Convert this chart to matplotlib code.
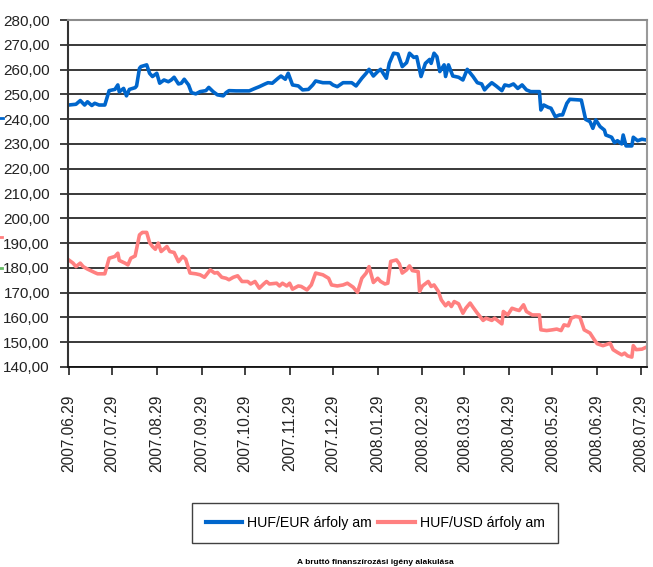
import matplotlib
matplotlib.use('Agg')
import matplotlib.pyplot as plt
from matplotlib.lines import Line2D
import pandas as pd

eur_dates = ['2007-06-29', '2007-07-04', '2007-07-07', '2007-07-10', '2007-07-12', '2007-07-15',
             '2007-07-17', '2007-07-20', '2007-07-24', '2007-07-27', '2007-07-31', '2007-08-02',
             '2007-08-03', '2007-08-06', '2007-08-08', '2007-08-10', '2007-08-14', '2007-08-15',
             '2007-08-17', '2007-08-18', '2007-08-22', '2007-08-24', '2007-08-26', '2007-08-29',
             '2007-08-31', '2007-09-03', '2007-09-06', '2007-09-08', '2007-09-10', '2007-09-13',
             '2007-09-15', '2007-09-17', '2007-09-20', '2007-09-22', '2007-09-25', '2007-09-28',
             '2007-10-02', '2007-10-04', '2007-10-07', '2007-10-10', '2007-10-14', '2007-10-16',
             '2007-10-18', '2007-10-23', '2007-11-01', '2007-11-05', '2007-11-08', '2007-11-12',
             '2007-11-14', '2007-11-17', '2007-11-21', '2007-11-23', '2007-11-26', '2007-11-28',
             '2007-12-01', '2007-12-05', '2007-12-08', '2007-12-12', '2007-12-15', '2007-12-17',
             '2007-12-22', '2007-12-27', '2007-12-29', '2008-01-01', '2008-01-05', '2008-01-11',
             '2008-01-14', '2008-01-18', '2008-01-21', '2008-01-23', '2008-01-26', '2008-01-29',
             '2008-01-31', '2008-02-04', '2008-02-06', '2008-02-09', '2008-02-12', '2008-02-15',
             '2008-02-18', '2008-02-20', '2008-02-23', '2008-02-25', '2008-02-28', '2008-03-02',
             '2008-03-05', '2008-03-06', '2008-03-08', '2008-03-10', '2008-03-12', '2008-03-15',
             '2008-03-16', '2008-03-18', '2008-03-21', '2008-03-25', '2008-03-28', '2008-03-31',
             '2008-04-04', '2008-04-07', '2008-04-10', '2008-04-12', '2008-04-14', '2008-04-17',
             '2008-04-20', '2008-04-24', '2008-04-26', '2008-04-29', '2008-05-02', '2008-05-05',
             '2008-05-08', '2008-05-11', '2008-05-14', '2008-05-20', '2008-05-21', '2008-05-23',
             '2008-05-26', '2008-05-28', '2008-05-31', '2008-06-03', '2008-06-05', '2008-06-08',
             '2008-06-10', '2008-06-18', '2008-06-21', '2008-06-24', '2008-06-26', '2008-06-28',
             '2008-07-01', '2008-07-04', '2008-07-05', '2008-07-09', '2008-07-11', '2008-07-13',
             '2008-07-16', '2008-07-17', '2008-07-19', '2008-07-23', '2008-07-24', '2008-07-27',
             '2008-07-30', '2008-08-02']
eur_values = [245.7, 246.0, 247.5, 245.7, 247.0, 245.5,
              246.4, 245.7, 245.7, 251.5, 252.0, 253.8,
              251.0, 252.4, 249.4, 252.0, 252.7, 253.4,
              260.5, 261.2, 261.9, 258.5, 257.2, 258.5,
              254.5, 255.8, 255.1, 255.8, 256.9, 254.2,
              254.5, 256.1, 253.8, 250.7, 250.2, 251.1,
              251.5, 252.8, 251.1, 249.8, 249.4, 250.7,
              251.5, 251.4, 251.4, 252.4, 253.1, 254.2,
              254.7, 254.5, 256.5, 257.4, 256.1, 258.5,
              253.8, 253.4, 251.8, 252.0, 253.8, 255.4,
              254.7, 254.7, 253.8, 253.1, 254.7, 254.7,
              253.4, 256.5, 258.5, 260.1, 257.4, 259.2,
              260.1, 256.5, 262.5, 266.6, 266.3, 261.2,
              262.8, 266.6, 264.9, 265.2, 257.2, 262.5,
              264.1, 262.5, 266.6, 265.2, 259.2, 261.9,
              257.2, 261.9, 257.4, 256.9, 255.8, 260.1,
              257.2, 254.7, 254.2, 251.8, 253.1, 254.7,
              253.4, 251.5, 253.8, 253.4, 254.2, 252.4,
              253.8, 251.8, 251.1, 251.1, 243.7, 245.7,
              244.8, 244.4, 241.0, 241.7, 241.7, 246.4,
              248.0, 247.7, 239.9, 239.0, 236.3, 239.7,
              237.0, 235.6, 233.6, 232.7, 230.5, 231.3,
              230.0, 233.6, 229.2, 229.2, 232.7, 231.3,
              231.9, 231.6]

usd_dates = ['2007-06-29', '2007-07-02', '2007-07-04', '2007-07-07', '2007-07-09', '2007-07-12',
             '2007-07-17', '2007-07-19', '2007-07-24', '2007-07-27', '2007-07-31', '2007-08-02',
             '2007-08-03', '2007-08-07', '2007-08-09', '2007-08-11', '2007-08-14', '2007-08-17',
             '2007-08-19', '2007-08-22', '2007-08-24', '2007-08-26', '2007-08-28', '2007-08-30',
             '2007-09-01', '2007-09-05', '2007-09-07', '2007-09-10', '2007-09-13', '2007-09-16',
             '2007-09-18', '2007-09-21', '2007-09-25', '2007-09-28', '2007-10-01', '2007-10-05',
             '2007-10-08', '2007-10-10', '2007-10-13', '2007-10-16', '2007-10-18', '2007-10-21',
             '2007-10-24', '2007-10-27', '2007-10-31', '2007-11-02', '2007-11-05', '2007-11-08',
             '2007-11-11', '2007-11-13', '2007-11-15', '2007-11-20', '2007-11-22', '2007-11-24',
             '2007-11-27', '2007-11-29', '2007-12-01', '2007-12-05', '2007-12-07', '2007-12-11',
             '2007-12-14', '2007-12-17', '2007-12-22', '2007-12-26', '2007-12-28', '2008-01-01',
             '2008-01-05', '2008-01-08', '2008-01-12', '2008-01-15', '2008-01-18', '2008-01-21',
             '2008-01-23', '2008-01-26', '2008-01-29', '2008-01-31', '2008-02-03', '2008-02-05',
             '2008-02-07', '2008-02-11', '2008-02-13', '2008-02-15', '2008-02-18', '2008-02-20',
             '2008-02-22', '2008-02-26', '2008-02-27', '2008-02-29', '2008-03-04', '2008-03-06',
             '2008-03-08', '2008-03-11', '2008-03-13', '2008-03-16', '2008-03-18', '2008-03-20',
             '2008-03-22', '2008-03-25', '2008-03-28', '2008-03-30', '2008-04-02', '2008-04-04',
             '2008-04-07', '2008-04-11', '2008-04-13', '2008-04-17', '2008-04-19', '2008-04-21',
             '2008-04-24', '2008-04-25', '2008-04-28', '2008-05-01', '2008-05-04', '2008-05-06',
             '2008-05-09', '2008-05-11', '2008-05-15', '2008-05-20', '2008-05-21', '2008-05-25',
             '2008-05-29', '2008-06-01', '2008-06-04', '2008-06-06', '2008-06-09', '2008-06-11',
             '2008-06-14', '2008-06-17', '2008-06-20', '2008-06-24', '2008-06-27', '2008-06-29',
             '2008-07-03', '2008-07-08', '2008-07-10', '2008-07-13', '2008-07-16', '2008-07-18',
             '2008-07-20', '2008-07-23', '2008-07-24', '2008-07-26', '2008-07-30', '2008-08-02']
usd_values = [183.2, 181.9, 180.5, 181.9, 180.5, 179.5,
              178.1, 177.6, 177.6, 183.9, 184.6, 185.9,
              183.0, 181.9, 181.2, 183.9, 184.8, 193.3,
              194.3, 194.3, 190.2, 188.6, 187.5, 190.0,
              186.6, 188.6, 186.6, 186.2, 182.5, 184.6,
              183.5, 177.9, 177.6, 177.2, 176.2, 179.2,
              177.9, 178.1, 176.2, 175.8, 175.2, 176.2,
              176.8, 174.5, 174.5, 173.5, 174.5, 171.8,
              173.5, 174.5, 173.5, 173.8, 172.7, 173.8,
              172.7, 173.8, 171.4, 172.7, 172.5, 171.1,
              173.1, 177.9, 177.2, 175.8, 173.1, 172.7,
              173.1, 173.8, 172.2, 170.1, 175.8, 177.9,
              180.5, 174.1, 175.8, 174.5, 173.5, 173.8,
              182.6, 183.2, 181.6, 177.9, 179.2, 180.8,
              178.9, 178.5, 170.5, 172.7, 174.5, 172.5,
              173.1, 170.5, 167.1, 164.7, 166.0, 164.4,
              166.4, 165.5, 161.7, 163.7, 165.8, 164.1,
              161.7, 158.8, 159.7, 158.8, 159.7, 158.8,
              157.4, 162.4, 161.0, 163.7, 163.1, 162.8,
              165.1, 162.4, 161.0, 161.0, 155.0, 154.7,
              155.0, 155.3, 154.7, 157.0, 156.6, 159.7,
              160.4, 160.1, 155.0, 153.7, 151.0, 149.4,
              148.6, 149.6, 147.0, 145.9, 144.9, 145.6,
              144.5, 144.0, 148.6, 147.0, 147.2, 148.0]

tick_dates = ['2007-06-29', '2007-07-29', '2007-08-29', '2007-09-29', '2007-10-29',
              '2007-11-29', '2007-12-29', '2008-01-29', '2008-02-29', '2008-03-29',
              '2008-04-29', '2008-05-29', '2008-06-29', '2008-07-29']
tick_labels = ['2007.06.29', '2007.07.29', '2007.08.29', '2007.09.29', '2007.10.29',
               '2007.11.29', '2007.12.29', '2008.01.29', '2008.02.29', '2008.03.29',
               '2008.04.29', '2008.05.29', '2008.06.29', '2008.07.29']
y_ticks = [140, 150, 160, 170, 180, 190, 200, 210, 220, 230, 240, 250, 260, 270, 280]
y_labels = ['140,00', '150,00', '160,00', '170,00', '180,00', '190,00', '200,00', '210,00',
            '220,00', '230,00', '240,00', '250,00', '260,00', '270,00', '280,00']
series_names = ['HUF/EUR árfoly am', 'HUF/USD árfoly am']

plt.rcParams['font.family'] = ['Liberation Sans', 'DejaVu Sans']

fig = plt.figure(figsize=(6.53, 5.67), dpi=100)
ax = fig.add_axes([68 / 653, 1 - 367 / 567, 579 / 653, 347 / 567])

ax.plot(pd.to_datetime(eur_dates), eur_values, color='#0066CC', lw=2.6, label=series_names[0])
ax.plot(pd.to_datetime(usd_dates), usd_values, color='#FF8080', lw=2.6, label=series_names[1])

ax.set_ylim(140, 280)
ax.set_yticks(y_ticks)
ax.set_yticklabels(y_labels, fontsize=11, color='#222222')
ax.set_xlim(pd.Timestamp('2007-06-28 12:00'), pd.Timestamp('2008-08-02 12:00'))
ax.set_xticks(pd.to_datetime(tick_dates))
ax.set_xticklabels(tick_labels, rotation=90, fontsize=11.2, color='#222222')
ax.tick_params(axis='both', direction='out', length=6, width=1.3, color='#333333')
ax.tick_params(axis='x', pad=14)
ax.tick_params(axis='y', pad=7)

ax.yaxis.grid(True, color='#2a2a2a', lw=1.3)
ax.set_axisbelow(True)
ax.spines['left'].set_color('#333333')
ax.spines['left'].set_linewidth(1.5)
ax.spines['bottom'].set_color('#111111')
ax.spines['bottom'].set_linewidth(1.3)
ax.spines['top'].set_color('#8c8c8c')
ax.spines['top'].set_linewidth(1.5)
ax.spines['right'].set_color('#9a9a9a')
ax.spines['right'].set_linewidth(1.5)

leg = fig.legend(loc='center', bbox_to_anchor=(375 / 653, 1 - 523 / 567), ncol=2,
                 frameon=True, fancybox=False, edgecolor='#111111', handlelength=2.6,
                 handletextpad=0.3, columnspacing=0.5, borderpad=0.95, borderaxespad=0,
                 prop={'size': 10.2})
leg.get_frame().set_linewidth(1.0)
for line in leg.get_lines():
    line.set_linewidth(3.0)

# caption of the next figure, mostly cut off in the original
fig.text(375 / 653, 1 / 567, 'A bruttó finanszírozási igény alakulása',
         ha='center', va='bottom', fontsize=6, fontweight='bold')
# fragments of a neighbouring legend at the left edge
fig.add_artist(Line2D([0, 3 / 653], [1 - 118 / 567, 1 - 118 / 567], color='#0066CC', lw=2))
fig.add_artist(Line2D([0, 2 / 653], [1 - 237 / 567, 1 - 237 / 567], color='#FF8080', lw=2))
fig.add_artist(Line2D([0, 2 / 653], [1 - 268 / 567, 1 - 268 / 567], color='#66BB66', lw=2))

fig.savefig('out.png', dpi=100)
